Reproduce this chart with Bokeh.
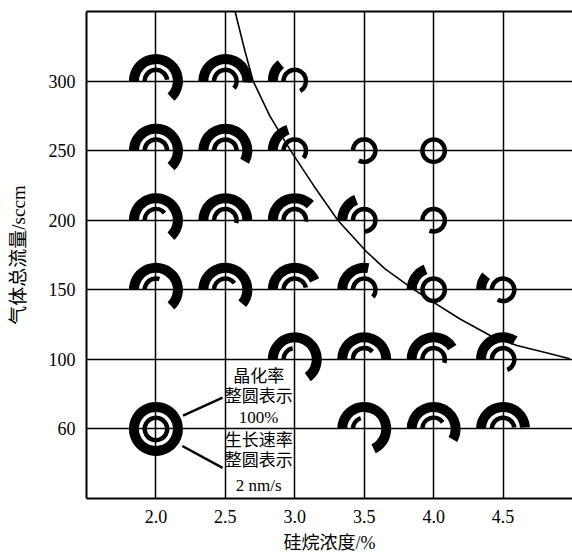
import numpy as np
from bokeh.plotting import figure
from bokeh.models import FixedTicker, LinearAxis, Range1d, ColumnDataSource
from bokeh.core.properties import value
from bokeh.embed import file_html
from bokeh.resources import INLINE

# ---------------- data ----------------
conc_ticks = [2.0, 2.5, 3.0, 3.5, 4.0, 4.5]          # 硅烷浓度 / %
flow_ticks = [60, 100, 150, 200, 250, 300]           # 气体总流量 / sccm

pt_conc = [2.0, 2.5, 3.0,
           2.0, 2.5, 3.0, 3.5, 4.0,
           2.0, 2.5, 3.0, 3.5, 4.0,
           2.0, 2.5, 3.0, 3.5, 4.0, 4.5,
           3.0, 3.5, 4.0, 4.5,
           2.0, 3.5, 4.0, 4.5]
pt_flow = [300, 300, 300,
           250, 250, 250, 250, 250,
           200, 200, 200, 200, 200,
           150, 150, 150, 150, 150, 150,
           100, 100, 100, 100,
           60, 60, 60, 60]
# growth rate as fraction of 2 nm/s (outer thick arc)
growth_frac = [0.63, 0.51, 0.14,
               0.63, 0.58, 0.20, 0.0, 0.0,
               0.63, 0.50, 0.375, 0.19, 0.0,
               0.63, 0.61, 0.43, 0.28, 0.19, 0.11,
               0.65, 0.50, 0.41, 0.34,
               1.00, 0.68, 0.58, 0.49]
# crystallinity as fraction of 100% (inner thin arc)
cryst_frac = [0.48, 0.61, 0.67,
              0.50, 0.50, 0.61, 0.83, 1.00,
              0.39, 0.54, 0.52, 0.75, 0.81,
              0.30, 0.40, 0.47, 0.61, 1.00, 0.83,
              0.22, 0.38, 0.55, 0.69,
              1.00, 0.20, 0.40, 0.48]

curve_conc = [2.57, 2.64, 2.70, 2.82, 2.97, 3.135, 3.31, 3.51, 3.65, 3.86, 4.00,
              4.19, 4.41, 4.60, 4.84, 4.98]
curve_flow = [350, 322, 300, 275, 250, 225, 200, 178, 165, 150, 141,
              129, 117, 110, 104, 100.5]

legend_top = ["晶化率", "整圆表示", "100%"]
legend_bottom = ["生长速率", "整圆表示", "2 nm/s"]

x_title = "硅烷浓度/%"
y_title = "气体总流量/sccm"

# ---------------- helpers ----------------
pos_flow = flow_ticks + [350]
pos_idx = list(range(len(pos_flow)))


def ypos(f):
    return np.interp(np.asarray(f, dtype=float), pos_flow, pos_idx)


FONT = "'Liberation Serif', 'Noto Sans CJK SC', serif"

p = figure(width=572, height=555, x_range=Range1d(1.5, 5.0), y_range=Range1d(-1, 6),
           output_backend="svg", toolbar_location=None,
           min_border_left=86, min_border_right=0, min_border_top=11, min_border_bottom=57)
p.outline_line_color = None
p.background_fill_color = "white"

# axes
p.xaxis.ticker = FixedTicker(ticks=conc_ticks)
p.xaxis.major_label_overrides = {t: f"{t:.1f}" for t in conc_ticks}
p.yaxis.ticker = FixedTicker(ticks=list(range(len(flow_ticks))))
p.yaxis.major_label_overrides = {i: str(v) for i, v in enumerate(flow_ticks)}
for ax in (p.xaxis, p.yaxis):
    ax.major_tick_out = 0
    ax.major_tick_in = 0
    ax.minor_tick_line_color = None
    ax.major_tick_line_color = None
    ax.axis_line_width = 2
    ax.axis_line_color = "black"
    ax.major_label_text_font = FONT
    ax.major_label_text_font_size = "18px"
    ax.major_label_text_color = "black"
    ax.axis_label_text_font = FONT
    ax.axis_label_text_font_size = "18px"
    ax.axis_label_text_font_style = "normal"
    ax.axis_label_text_color = "black"
p.xaxis.axis_label = x_title
p.yaxis.axis_label = y_title
p.yaxis.axis_label_text_font_size = "19px"
p.xaxis.major_label_standoff = 11
p.xaxis.axis_label_standoff = 7
p.yaxis.major_label_standoff = 11
p.yaxis.axis_label_standoff = 17

top = LinearAxis(ticker=FixedTicker(ticks=[]), axis_line_width=2, axis_line_color="black",
                 major_tick_line_color=None, minor_tick_line_color=None,
                 major_label_text_font_size="0px")
p.add_layout(top, "above")

p.grid.grid_line_color = "black"
p.grid.grid_line_width = 1.5
p.grid.grid_line_alpha = 1.0

# ---------------- marks ----------------
pc = np.array(pt_conc)
py = ypos(pt_flow)
g = np.minimum(np.array(growth_frac), 0.9999)
c = np.minimum(np.array(cryst_frac), 0.9999)

mg = g > 0
outer = ColumnDataSource(dict(x=pc[mg], y=py[mg], s=np.full(mg.sum(), np.pi),
                              e=np.pi - 2 * np.pi * g[mg]))
mc = c > 0
inner = ColumnDataSource(dict(x=pc[mc], y=py[mc], s=np.full(mc.sum(), np.pi),
                              e=np.pi - 2 * np.pi * c[mc]))

p.annular_wedge(x="x", y="y", inner_radius=17, outer_radius=27,
                inner_radius_units="screen", outer_radius_units="screen",
                start_angle="s", end_angle="e", direction="clock",
                fill_color="black", line_color=None, source=outer)
p.annular_wedge(x="x", y="y", inner_radius=9, outer_radius=13.5,
                inner_radius_units="screen", outer_radius_units="screen",
                start_angle="s", end_angle="e", direction="clock",
                fill_color="black", line_color=None, source=inner)

# boundary curve
p.line(curve_conc, ypos(curve_flow), line_color="black", line_width=1.6)

# legend annotation (at the full-circle example, 2.0 / 60)
lx, ly = conc_ticks[0], float(ypos(flow_ticks[0]))
p.segment(x0=[lx + 0.195, lx + 0.19], y0=[ly + 0.19, ly - 0.245],
          x1=[lx + 0.48, lx + 0.48], y1=[ly + 0.45, ly - 0.56],
          line_color="black", line_width=2.5)
tx = lx + 0.74
p.text(x=[tx] * 6, y=[ly + 0.76, ly + 0.47, ly + 0.16, ly - 0.17, ly - 0.46, ly - 0.82],
       text=legend_top + legend_bottom, text_font=value(FONT), text_font_size="17px",
       text_align="center", text_baseline="middle", text_color="black")

open("out.html", "w").write(file_html(p, INLINE))
